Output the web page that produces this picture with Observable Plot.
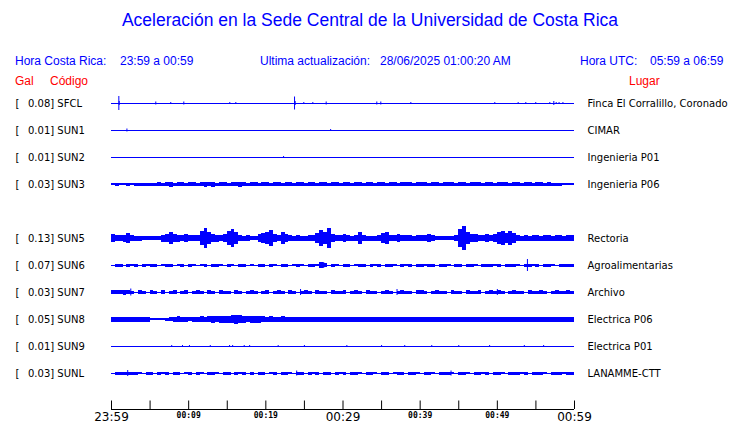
<!DOCTYPE html>
<html><head><meta charset="utf-8">
<script src="https://cdn.jsdelivr.net/npm/d3@7"></script>
<script src="https://cdn.jsdelivr.net/npm/@observablehq/plot@0.6"></script>
<style>
body{margin:0;background:#fff;}
#wrap{width:740px;height:423px;position:relative;overflow:hidden;}
#hdr{position:relative;height:88px;font-family:"Liberation Sans",Arial,sans-serif;}
#hdr span{position:absolute;white-space:nowrap;line-height:1;}
.b{color:#0000ff;font-size:12px;}
.r{color:#ff0000;font-size:12px;}
#title{color:#0000ff;font-size:17.5px;left:0;width:740px;text-align:center;top:12px;}
#chart svg{display:block;}
</style></head><body>
<div id="wrap">
<div id="hdr">
<span id="title">Aceleración en la Sede Central de la Universidad de Costa Rica</span>
<span class="b" style="left:15px;top:55px">Hora Costa Rica:</span>
<span class="b" style="left:120px;top:55px">23:59 a 00:59</span>
<span class="b" style="left:260px;top:55px">Ultima actualización:</span>
<span class="b" style="left:380px;top:55px">28/06/2025 01:00:20 AM</span>
<span class="b" style="left:580px;top:55px">Hora UTC:</span>
<span class="b" style="left:650px;top:55px">05:59 a 06:59</span>
<span class="r" style="left:15px;top:75px">Gal</span>
<span class="r" style="left:50px;top:75px">Código</span>
<span class="r" style="left:629px;top:75px">Lugar</span>
</div>
<div id="chart"></div>
</div>
<script>
// ---- data ----
const codes  = ["SFCL","SUN1","SUN2","SUN3",null,"SUN5","SUN6","SUN7","SUN8","SUN9","SUNL"];
const peaks  = [0.08, 0.01, 0.01, 0.03, null, 0.13, 0.07, 0.03, 0.05, 0.01, 0.03];
const places = ["Finca El Corralillo, Coronado","CIMAR","Ingenieria P01","Ingenieria P06",null,
                "Rectoria","Agroalimentarias","Archivo","Electrica P06","Electrica P01","LANAMME-CTT"];

// time axis (minutes after 23:59)
const tickMinutes  = [0,5,10,15,20,25,30,35,40,45,50,55,60];
const labelMinutes = [0,10,20,30,40,50,60];
const labelTexts   = ["23:59","00:09","00:19","00:29","00:39","00:49","00:59"];
const labelBig     = [true,false,false,true,false,false,true];

// envelope half-amplitude per 30 s bin, in hundredths of Gal (120 bins)
const envSUN3 = [1,1.5,1,1,1.5,1,1.5,1.5,1.5,1.5, 1.5,1.5,2,1.5,2,2.5,1.5,2,2,1.5, 2,2,1.5,2,2.5,2,2.5,1.5,2,2,
                 1.5,2,2,2.5,2,1.5,2,2,1.5,2, 2,1.5,2,2,1.5,2,2,1.5,2,2, 1.5,2,2,1.5,2,2,1.5,2,2,1.5,
                 2,2,1.5,2,2,1.5,2,2,1.5,2, 2,1.5,2,2,1.5,2,2,2,1.5,2, 2,2,1.5,2,2,1.5,2,2,2,1.5,
                 2,2,1.5,2,2,2,1.5,2,2,1.5, 2,2,2,1.5,2,2,1.5,2,2,1.5, 2,2,1.5,2,1.5,1.5,1.5,1,1,1];
const envSUN5 = [4,3,3,3.5,5,3,2.5,2.5,2,2, 2,2,2,3.5,4,6,4,3.5,3,4, 3,3,3,7,10,6,4,3.5,3,4, 7,9,6,3,2.5,3,2,2,4,5,
                 6,8,4,3,6,4,3,2.5,3,2.5, 2.5,3,3,5,8,6,10,4,3,3, 4,3,2.5,3,6,3,2.5,2.5,2.5,3, 5,6,3,3,4,3,3,3,2.5,3,
                 3,3,4,3,2,2,2,2,2,3, 9,12,6,4,4,3,3,4,3,4, 6,7,5,7,5,3,2.5,3,2.5,3, 3,2.5,3,3,2.5,3,3,2.5,3,3];
const envSUN6 = [0,1.5,1.5,0,1.5,1,1.5,0,1.5,1, 1.5,1.5,0,1,1.5,1.5,0,1,1.5,0, 1.5,1,0,1,1.5,0,1.5,1.5,1,0,
                 1.5,1,0,1.5,1.5,0,1,0,1.5,1.5, 0,1.5,1,0,1.5,1.5,0,1,1.5,1, 0,1.5,1.5,1,3,2,0,1.5,1,0,
                 1.5,1.5,0,1,1.5,1.5,0,1.5,1,1.5, 0,1.5,1.5,1,0,1.5,1,1.5,0,1.5, 1.5,1,1.5,1.5,0,1.5,1.5,1,0,1.5,
                 1.5,0,1.5,1.5,1,0,1.5,1.5,1.5,1, 1.5,0,1.5,1.5,1.5,1,0,1.5,1.5,1, 1.5,0,1.5,1.5,1,0,1.5,1.5,1.5,1.5];
const envSUN7 = [2,2,2,2.5,2,1.5,0,2,1.5,0, 2,1.5,0,2,0,1.5,2,0,1.5,2, 0,1.5,2,1.5,0,2,1.5,0,2,1.5,
                 1.5,0,2,1.5,0,1.5,2,1.5,0,1.5, 2,0,1.5,2,1.5,0,2,1.5,0,1.5, 2,1.5,0,2,1.5,1.5,0,2,1.5,1.5,
                 2,0,1.5,2,1.5,0,2,1.5,1.5,0, 1.5,2,1.5,0,1.5,2,1.5,1.5,0,2, 2,1.5,0,1.5,2,1.5,1.5,0,2,1.5,
                 1.5,0,2,1.5,1.5,2,0,1.5,2,1.5, 2,1.5,0,1.5,2,1.5,1.5,0,2,1.5, 1.5,2,1.5,0,1.5,2,1.5,1.5,2,1.5];
const envSUN8 = [2.5,2.5,2.5,2.5,2.5,2.5,2.5,2.5,2.5,2.5, 1,1,1,1,1.5,2,2.5,3,2.5,2.5, 2,2.5,2.5,3,2.5,3,3.5,3,3.5,3.5,
                 3.5,4,4.5,4,3.5,3,3.5,3.5,3.5,3, 2.5,3,2.5,2.5,3,2.5,2.5,2.5,2.5,2.5, 2.5,2.5,2.5,2.5,2.5,2.5,2.5,2.5,2.5,2.5,
                 2.5,2.5,2.5,2.5,2.5,2.5,2.5,2.5,2.5,2.5, 2.5,2.5,2.5,2.5,2.5,2.5,2.5,2.5,2.5,2.5, 2.5,2.5,2.5,2.5,2.5,2.5,2.5,2.5,2.5,2.5,
                 2.5,2.5,2.5,2.5,2.5,2.5,2.5,2.5,2.5,2.5, 2.5,2.5,2.5,2.5,2.5,2.5,2.5,2.5,2.5,2.5, 2.5,2.5,2.5,2.5,2.5,2.5,2.5,2.5,2.5,2.5];
const envSUNL = [0,1.5,1.5,1.5,1.5,1.5,1.5,1,0,1.5, 1.5,0,1.5,1,1.5,0,1.5,1.5,0,1, 1.5,0,1.5,1,0,1.5,1.5,1,0,1.5,
                 1.5,0,1.5,1,1.5,0,1.5,0,1.5,1.5, 0,1,1.5,0,1.5,1.5,1,0,1.5,1.5, 0,1.5,1,1.5,0,1.5,1.5,0,1.5,1,
                 1.5,0,1.5,1.5,1,0,1.5,1.5,1,0, 1.5,1.5,0,1,1.5,1.5,0,1.5,1.5,1, 0,1.5,1.5,1,0,1.5,1.5,1.5,1,0,
                 1.5,1.5,1,0,1.5,1.5,1,1.5,0,1.5, 1.5,1,0,1.5,1.5,1.5,1,1.5,0,1.5, 1.5,1.5,1,0,1.5,1.5,1.5,1,1.5,1.5];
const envelopes = {SUN3: envSUN3, SUN5: envSUN5, SUN6: envSUN6, SUN7: envSUN7, SUN8: envSUN8, SUNL: envSUNL};

// isolated spikes: [minute, half-amplitude in hundredths of Gal]
const spikesSFCL = [[0.95,7],[1.0,2],[5.74,1.5],[7.68,1],[9.37,1.5],[15.33,1],[16.11,1],[23.72,6.5],[23.8,2],
                    [24.92,1],[26.09,1],[27.82,1.5],[34.38,1.5],[34.9,1.5],[38.79,1],[49.67,1],[52.7,1],
                    [53.69,1],[54.98,1],[56.8,1],[57.32,2],[57.63,1],[58.0,1],[58.5,1]];
const spikesSUN1 = [[2.0,1.5],[28.4,1]];
const spikesSUN2 = [[22.3,1]];
const spikesSUN6 = [[53.9,6],[27.5,3]];
const spikesSUN7 = [[2.5,3.5],[24.5,3],[37.0,3],[50.0,3]];
const spikesSUNL = [[2.1,3],[24.0,2.5],[44.0,2.5]];
const spikesSUN9 = [[7.8,1],[9.2,1],[10.1,1],[12.8,1],[15.3,1],[15.7,1],[17.2,1],[17.9,1],[21.6,1],[25.0,1],
                    [30.5,1],[35.0,1],[38.0,1],[41.5,1],[45.0,1],[49.0,1],[53.5,1],[56.0,1]];
const spikes = {SFCL: spikesSFCL, SUN1: spikesSUN1, SUN2: spikesSUN2, SUN6: spikesSUN6, SUN7: spikesSUN7,
                SUN9: spikesSUN9, SUNL: spikesSUNL};

// ---- build tables ----
const ROW = 0.27;               // Gal per trace row
const TOTAL = 3.195;            // Gal span of plot frame
const rows = codes.map((c, i) => ({i, code: c, peak: peaks[i], place: places[i], y: ROW * i + ROW / 2}))
                  .filter(d => d.code);
const bins = [];
const spk = [];
for (const r of rows) {
  const env = envelopes[r.code];
  if (env) env.forEach((a, k) => { if (a > 0) bins.push({t: k * 0.5, a: a / 100, y: r.y}); });
  const s = spikes[r.code];
  if (s) s.forEach(([t, a]) => spk.push({t, a: a / 100, y: r.y}));
}
const ticks = tickMinutes.map(t => ({t}));
const labels = labelMinutes.map((t, i) => ({t, text: labelTexts[i], big: labelBig[i]}));
const BLUE = "#0000ff";

const chart = Plot.plot({
  width: 740, height: 335,
  marginLeft: 111, marginRight: 166, marginTop: 1.5, marginBottom: 14,
  x: {domain: [0, 60], axis: null},
  y: {domain: [TOTAL, 0], axis: null},
  style: {fontFamily: "DejaVu Sans", fontSize: "10px", background: "white", overflow: "visible"},
  marks: [
    Plot.ruleY(rows, {y: "y", x1: 0, x2: 60, stroke: BLUE, strokeWidth: 1}),
    Plot.rect(bins, {x1: "t", x2: d => d.t + 0.5, y1: d => d.y - d.a, y2: d => d.y + d.a,
                     fill: BLUE, shapeRendering: "crispEdges"}),
    Plot.ruleX(spk, {x: "t", y1: d => d.y - d.a, y2: d => d.y + d.a, stroke: BLUE, strokeWidth: 1}),
    // left labels
    Plot.text(rows, {frameAnchor: "left", y: "y", text: () => "[", textAnchor: "start", dx: -96, fill: "black"}),
    Plot.text(rows, {frameAnchor: "left", y: "y", text: d => d.peak.toFixed(2) + "] " + d.code,
                     textAnchor: "start", dx: -83.5, fill: "black"}),
    // right labels
    Plot.text(rows, {frameAnchor: "right", y: "y", text: "place", textAnchor: "start", dx: 13, fill: "black"}),
    // time axis
    Plot.ruleY([TOTAL], {x1: 0, x2: 60, stroke: "black"}),
    Plot.ruleX(ticks, {x: "t", y1: TOTAL, y2: TOTAL - 0.085, stroke: "black"}),
    Plot.text(labels.filter(d => d.big), {x: "t", y: TOTAL, text: "text", dy: 8, fontSize: 12,
                     fontFamily: "DejaVu Sans", fill: "black"}),
    Plot.text(labels.filter(d => !d.big), {x: "t", y: TOTAL, text: "text", dy: 6, fontSize: 8,
                     fontFamily: "DejaVu Sans Mono", fontWeight: "bold", fill: "black"})
  ]
});
document.getElementById("chart").appendChild(chart);
</script>
</body></html>
